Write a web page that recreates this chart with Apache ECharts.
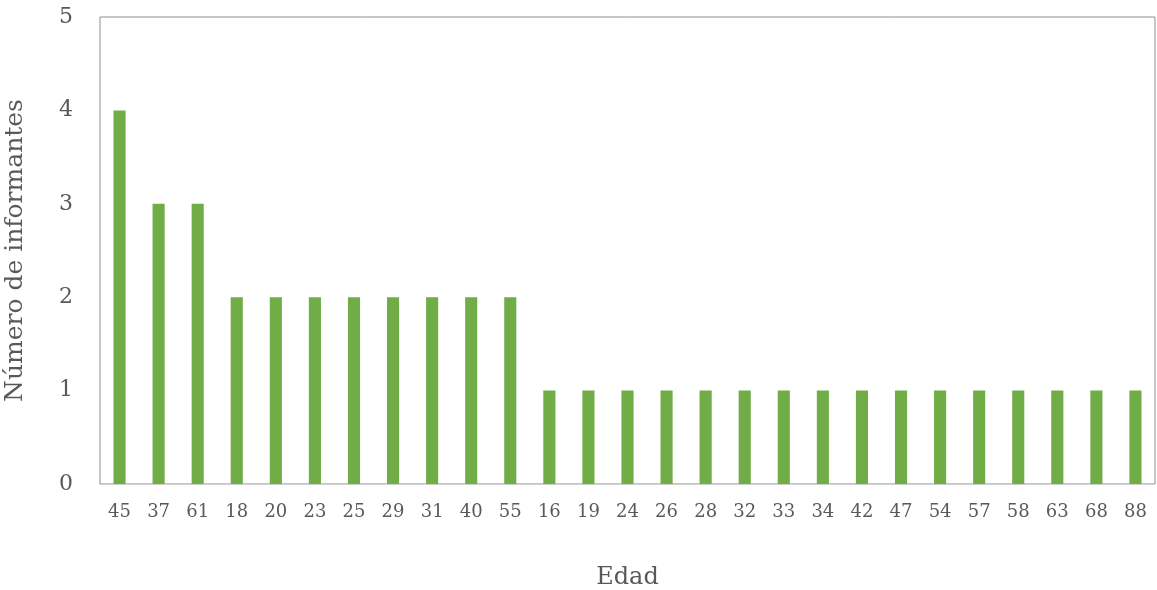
<!DOCTYPE html>
<html>
<head>
<meta charset="utf-8">
<script src="https://cdn.jsdelivr.net/npm/echarts@6/dist/echarts.min.js"></script>
<style>
  html, body { margin: 0; padding: 0; background: #fff; }
  #chart { width: 1157px; height: 590px; }
</style>
</head>
<body>
<div id="chart"></div>
<script>
// Ages of the informants, sorted by count
const edades = ['45','37','61','18','20','23','25','29','31','40','55','16','19','24','26','28','32','33','34','42','47','54','57','58','63','68','88'];
const informantes = [4,3,3,2,2,2,2,2,2,2,2,1,1,1,1,1,1,1,1,1,1,1,1,1,1,1,1];
const yTicks = [0,1,2,3,4,5];

const serif = '"DejaVu Serif", "Liberation Serif", serif';
const chart = echarts.init(document.getElementById('chart'));
chart.setOption({
  animation: false,
  grid: {
    left: 100, top: 17, right: 2, bottom: 106,
    outerBoundsMode: 'none',
    containLabel: false,
    show: true, borderColor: '#8c8c8c', borderWidth: 1, backgroundColor: '#fff'
  },
  xAxis: {
    type: 'category',
    data: edades,
    name: 'Edad',
    nameLocation: 'middle',
    nameGap: 82,
    nameTextStyle: { fontFamily: serif, fontSize: 24, color: '#595959' },
    axisLine: { show: true, lineStyle: { color: '#d0d0d0', width: 1 } },
    axisTick: { show: false },
    axisLabel: { fontFamily: serif, fontSize: 18, color: '#595959', margin: 19, interval: 0 }
  },
  yAxis: {
    type: 'value',
    min: yTicks[0],
    max: yTicks[yTicks.length - 1],
    interval: 1,
    name: 'Número de informantes',
    nameLocation: 'middle',
    nameGap: 72,
    nameTextStyle: { fontFamily: serif, fontSize: 25, color: '#595959' },
    axisLine: { show: false },
    axisTick: { show: false },
    splitLine: { show: false },
    axisLabel: { fontFamily: serif, fontSize: 22, color: '#595959', margin: 27 }
  },
  series: [{
    type: 'bar',
    data: informantes,
    barWidth: '31%',
    itemStyle: { color: '#70ad47' }
  }]
});
</script>
</body>
</html>
